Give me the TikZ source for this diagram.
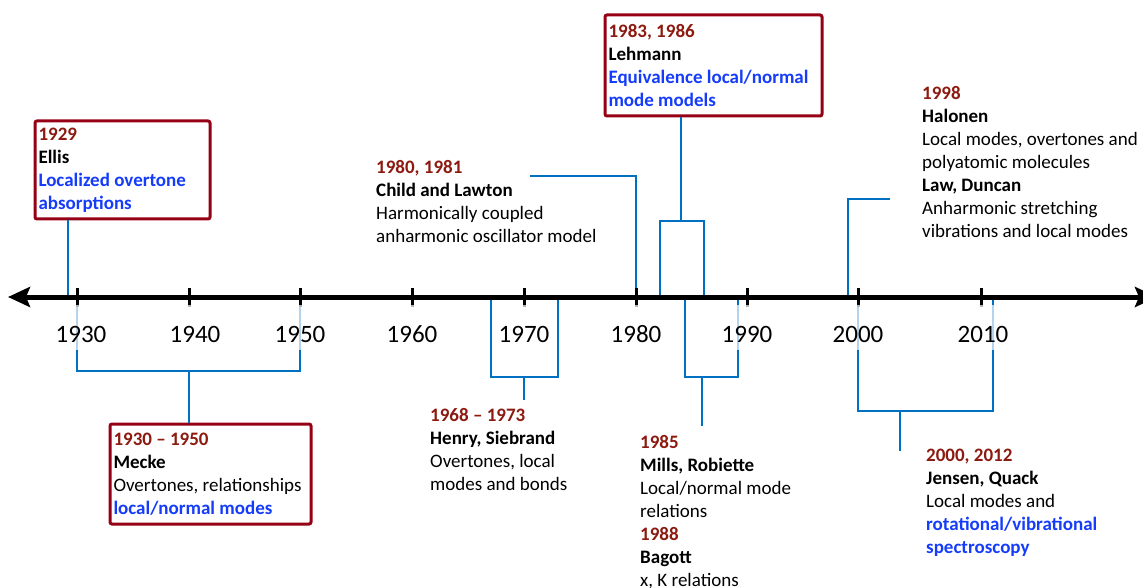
\documentclass[tikz,border=0pt]{standalone}
\usepackage{fontspec}
\setmainfont{Carlito}
\usepackage{xcolor}
\usetikzlibrary{arrows.meta,positioning,calc}
\definecolor{boxRed}{RGB}{150,0,20}
\definecolor{yearRed}{RGB}{140,26,16}
\definecolor{noteBlue}{RGB}{20,60,250}
\definecolor{linkBlue}{RGB}{0,112,192}
\newcommand{\axisY}{297}
\newcommand{\tickHalf}{9.5}
\newcommand{\yearTxt}[1]{\textcolor{yearRed}{\textbf{#1}}}
\newcommand{\whoTxt}[1]{\textbf{#1}}
\newcommand{\noteTxt}[1]{\textcolor{noteBlue}{\textbf{#1}}}
\tikzset{
	eventText/.style={anchor=north west, align=left, inner sep=0pt, font=\fontsize{19}{23}\selectfont},
	eventBox/.style={anchor=north west, align=flush left, draw=boxRed, line width=3pt, rounded corners=2pt, fill=white, inner xsep=3.5pt, inner ysep=0pt, font=\fontsize{19}{23}\selectfont},
	yearLabel/.style={anchor=base, fill=white, fill opacity=0.7, text opacity=1, inner xsep=1pt, inner ysep=0pt, text height=37pt, text depth=8pt, font=\fontsize{25}{30}\selectfont},
	linkLine/.style={draw=linkBlue, line width=2.5pt},
	axisTick/.style={line width=3pt}
}
\begin{document}
\begin{tikzpicture}[x=1pt,y=-1pt]
	\useasboundingbox (0,0) rectangle (1143,588);
	
	% axis and where the links meet it
	\coordinate (axisL) at (8,\axisY);
	\coordinate (axisR) at (1157,\axisY);
	\foreach \yr/\x in {1930/77, 1940/189, 1950/300, 1960/412, 1970/524, 1980/636, 1990/747, 2000/858, 2010/981}
		\coordinate (t\yr) at (\x,\axisY);
	\coordinate (c1929) at (68,\axisY);
	\coordinate (c1968) at (491,\axisY);
	\coordinate (c1973) at (558,\axisY);
	\coordinate (c1983) at (660,\axisY);
	\coordinate (c1986) at (704,\axisY);
	\coordinate (c1985) at (685,\axisY);
	\coordinate (c1988) at (738,\axisY);
	\coordinate (c1998) at (848,\axisY);
	\coordinate (c2012) at (993,\axisY);
	
	% boxed events
	\node[eventBox, text width=168pt, minimum height=98pt] (ellisBox) at (33.5,119.5) {\yearTxt{1929}\\ \whoTxt{Ellis}\\ \noteTxt{Localized overtone}\\ \noteTxt{absorptions}};
	\node[eventBox, text width=210pt, minimum height=101pt] (lehmannBox) at (603.5,13.5) {\yearTxt{1983, 1986}\\ \whoTxt{Lehmann}\\ \noteTxt{Equivalence local/normal}\\ \noteTxt{mode models}};
	\node[eventBox, text width=194pt, minimum height=100pt] (meckeBox) at (108.5,422.5) {\yearTxt{1930 -- 1950}\\ \whoTxt{Mecke}\\ Overtones, relationships\\ \noteTxt{local/normal modes}};
	
	% plain events
	\node[eventText] (childText) at (376,160) {\yearTxt{1980, 1981}\\ \whoTxt{Child and Lawton}\\ Harmonically coupled\\ anharmonic oscillator model};
	\node[eventText] (henryText) at (430,408) {\yearTxt{1968 -- 1973}\\ \whoTxt{Henry, Siebrand}\\ Overtones, local\\ modes and bonds};
	\node[eventText] (millsText) at (640,435) {\yearTxt{1985}\\ \whoTxt{Mills, Robiette}\\ Local/normal mode\\ relations\\ \yearTxt{1988}\\ \whoTxt{Bagott}\\ x, K relations};
	\node[eventText] (halonenText) at (922,86) {\yearTxt{1998}\\ \whoTxt{Halonen}\\ Local modes, overtones and\\ polyatomic molecules\\ \whoTxt{Law, Duncan}\\ Anharmonic stretching\\ vibrations and local modes};
	\node[eventText] (jensenText) at (926,449) {\yearTxt{2000, 2012}\\ \whoTxt{Jensen, Quack}\\ Local modes and\\ \noteTxt{rotational/vibrational}\\ \noteTxt{spectroscopy}};
	
	% links
	\coordinate (meckeStem) at (189,371);
	\coordinate (lehmannStem) at (681,221);
	\coordinate (henryStem) at (524,377);
	\coordinate (henryEnd) at (524,400);
	\coordinate (childEnd) at (530,176);
	\coordinate (millsStem) at (702,377);
	\coordinate (millsEnd) at (702,426);
	\coordinate (halonenEnd) at (890,199);
	\coordinate (jensenStem) at (900,411);
	\coordinate (jensenEnd) at (900,451);
	
	\draw[linkLine] (ellisBox.south -| c1929) -- (c1929);
	\draw[linkLine] (t1930) |- (meckeStem) -| (t1950);
	\draw[linkLine] (meckeStem) -- (meckeStem |- meckeBox.north);
	\draw[linkLine] (c1968) |- (henryStem) -| (c1973);
	\draw[linkLine] (henryStem) -- (henryEnd);
	\draw[linkLine] (childEnd) -| (t1980);
	\draw[linkLine] (c1983) |- (lehmannStem) -| (c1986);
	\draw[linkLine] (lehmannStem) -- (lehmannStem |- lehmannBox.south);
	\draw[linkLine] (c1985) |- (millsStem) -| (c1988);
	\draw[linkLine] (millsStem) -- (millsEnd);
	\draw[linkLine] (c1998) |- (halonenEnd);
	\draw[linkLine] (t2000) |- (jensenStem) -| (c2012);
	\draw[linkLine] (jensenStem) -- (jensenEnd);
	
	\draw[line width=5pt, {Stealth[length=22pt,width=20pt,inset=4pt]}-{Stealth[length=22pt,width=20pt,inset=4pt]}] (axisL) -- (axisR);
	\foreach \yr in {1930,1940,...,2010}
		\draw[axisTick] ($(t\yr)+(0,-\tickHalf)$) -- ($(t\yr)+(0,\tickHalf)$);
	
	% year labels
	\foreach \yr/\x in {1930/81, 1940/195, 1950/300, 1960/412, 1970/524, 1980/636, 1990/747, 2000/858, 2010/983}
		\node[yearLabel] (l\yr) at (\x,342) {\yr};
\end{tikzpicture}
\end{document}
